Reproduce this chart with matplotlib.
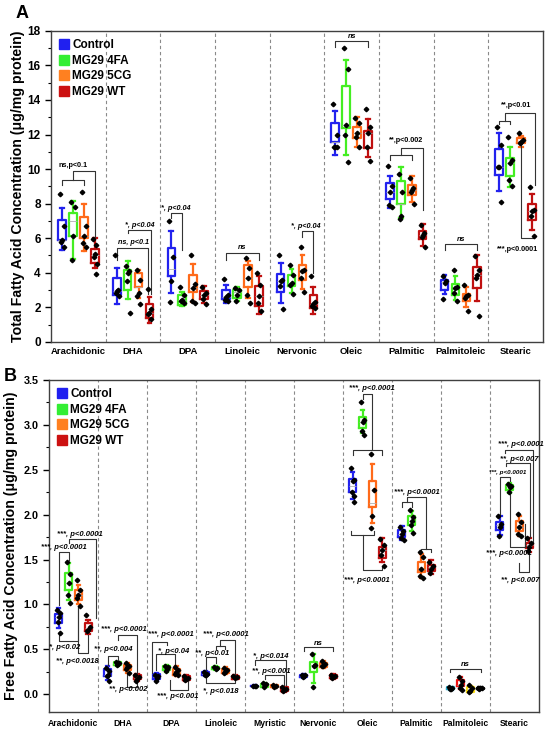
import numpy as np
import matplotlib
matplotlib.use('Agg')
import matplotlib.pyplot as plt
from matplotlib.lines import Line2D
from matplotlib.ticker import MultipleLocator

plt.rcParams['font.family'] = ['Liberation Sans', 'DejaVu Sans']
plt.rcParams['font.weight'] = 'bold'

groups = ['Control', 'MG29 4FA', 'MG29 5CG', 'MG29 WT']
colors = ['#2222ee', '#44ee22', '#ff6a1a', '#c01010']
legend_colors = ['#2020f0', '#33ee33', '#ff8020', '#cc1111']
palmitoleic_B_colors = ['#22aacc', '#ee1111', '#ffe010', '#222222']

# ---------------- Panel A: total fatty acids ----------------
A_cats = ['Arachidonic', 'DHA', 'DPA', 'Linoleic', 'Nervonic', 'Oleic',
          'Palmitic', 'Palmitoleic', 'Stearic']
# (whisker low, q1, q3, whisker high)
A_ctrl_box = [(5.3, 5.9, 7.06, 7.72), (2.16, 2.73, 3.7, 4.27), (2.83, 3.79, 5.43, 6.43),
              (2.25, 2.5, 3.02, 3.31), (2.25, 2.87, 3.95, 4.56), (10.82, 11.59, 12.69, 13.36),
              (7.74, 8.26, 9.18, 9.57), (2.79, 3.02, 3.6, 3.89), (8.74, 9.66, 11.15, 12.07)]
A_4fa_box = [(4.8, 6.1, 7.45, 8.16), (2.45, 3.02, 4.18, 4.7), (2.1, 2.15, 2.73, 2.87),
             (2.35, 2.54, 3.02, 3.18), (2.83, 3.25, 3.89, 4.22), (10.82, 12.36, 14.8, 16.3),
             (7.16, 7.99, 9.28, 10.14), (2.39, 2.73, 3.37, 3.79), (8.95, 9.57, 10.63, 11.3)]
A_5cg_box = [(5.25, 6.0, 7.25, 8.0), (2.55, 3.2, 3.98, 4.18), (2.3, 2.87, 3.89, 4.52),
             (2.54, 3.18, 4.47, 4.66), (3.06, 3.6, 4.47, 5.04), (11.3, 11.78, 12.45, 12.99),
             (8.12, 8.51, 9.09, 9.57), (2.02, 2.35, 2.79, 3.16), (11.3, 11.49, 11.78, 11.92)]
A_wt_box = [(4.27, 4.56, 5.37, 6.0), (1.1, 1.39, 2.21, 2.6), (2.25, 2.48, 2.96, 3.25),
            (1.58, 2.06, 3.25, 3.79), (1.58, 1.96, 2.73, 3.18), (10.72, 11.2, 12.22, 12.9),
            (5.56, 5.95, 6.43, 6.83), (2.35, 3.12, 4.33, 5.04), (6.49, 7.06, 7.99, 8.55)]
A_ctrl_pts = [[8.55, 6.68, 5.9, 5.8, 5.5], [5.0, 3.02, 2.93, 2.83, 2.64], [7.02, 4.89, 3.54, 2.3],
              [3.65, 2.73, 2.6, 2.44, 2.35], [5.04, 3.6, 3.5, 3.25, 1.87], [13.76, 12.0, 11.3, 11.25, 11.3],
              [10.2, 8.99, 8.7, 7.93, 7.83], [3.79, 3.5, 3.41, 2.48], [12.42, 11.4, 10.14, 10.1, 8.07]]
A_4fa_pts = [[8.07, 7.8, 6.14, 4.75], [4.37, 4.08, 4.0, 3.5, 1.67], [3.2, 2.68, 2.44, 2.35, 2.25],
             [3.12, 3.02, 2.73, 2.35], [4.47, 3.89, 3.41, 3.31, 2.77], [16.98, 15.82, 12.55, 11.97, 10.38],
             [9.72, 8.7, 7.3, 7.1], [4.14, 3.2, 3.12, 2.83, 2.35], [11.88, 10.53, 10.34, 9.37, 8.99]]
A_5cg_pts = [[8.7, 6.68, 6.1, 5.7, 5.5], [4.18, 3.6, 2.83, 2.64, 2.2], [5.0, 3.35, 3.12, 2.35, 2.25],
             [4.85, 4.27, 3.7, 2.73, 2.25], [5.49, 4.18, 4.08, 3.7, 2.87], [12.94, 12.65, 12.07, 11.88, 11.3],
             [9.47, 8.89, 8.8, 8.7, 7.97], [3.31, 2.73, 2.64, 2.54, 1.77], [12.11, 11.68, 11.59, 11.53]]
A_wt_pts = [[5.95, 5.6, 5.1, 4.9, 4.5, 3.95], [3.08, 1.87, 1.67, 1.58, 1.29], [3.2, 2.83, 2.73, 2.5, 2.21],
            [3.98, 3.31, 2.64, 2.25, 1.77], [3.79, 2.29, 2.21, 2.1, 1.96], [13.46, 12.45, 12.07, 11.3, 10.49],
            [6.78, 6.29, 6.2, 6.06, 5.49], [4.99, 4.18, 3.89, 3.7, 1.48], [8.95, 7.64, 7.55, 7.3, 6.14]]

# brackets: (category, group from, y end 1, group to, y end 2, bar height)
A_brackets = [(0, 0, 9.09, 2, 9.09, 9.37), (0, 1, 9.37, 3, 6.05, 9.86),
              (1, 0, 4.75, 2.9, 2.75, 5.43), (1, 1, 6.3, 3.1, 2.75, 6.49),
              (2, 0, 7.15, 1, 5.33, 7.45), (3, 0, 4.75, 3, 4.75, 5.14),
              (4, 2, 6.06, 3, 3.98, 6.39), (5, 0, 17.07, 3, 17.07, 17.4),
              (6, 0, 10.53, 2, 10.53, 10.82), (6, 1, 10.82, 3, 7.64, 11.2),
              (7, 0, 5.29, 3, 5.29, 5.66), (8, 0, 12.6, 1, 12.6, 12.77),
              (8, 0.5, 12.77, 3.3, 9.06, 13.23), (8, 2, 11.37, 3.2, 6.17, 5.98)]
A_labels = [(0, 1.0, 10.2, 'ns,p<0.1', False), (1, 1.5, 5.75, 'ns, p<0.1', True),
            (1, 2.1, 6.75, '*, p<0.04', True), (2, 0.4, 7.7, '*, p<0.04', True),
            (3, 1.5, 5.45, 'ns', True), (4, 2.3, 6.7, '*, p<0.04', True),
            (5, 1.5, 17.7, 'ns', True), (6, 1.5, 11.65, '**,p<0.002', False),
            (7, 1.5, 5.95, 'ns', True), (8, 1.6, 13.67, '**,p<0.01', False),
            (8, 1.7, 5.37, '***,p<0.0001', False)]

# ---------------- Panel B: free fatty acids ----------------
B_cats = ['Arachidonic', 'DHA', 'DPA', 'Linoleic', 'Myristic', 'Nervonic', 'Oleic',
          'Palmitic', 'Palmitoleic', 'Stearic']
B_ctrl_box = [(0.735, 0.79, 0.89, 0.958), (0.156, 0.20, 0.286, 0.32), (0.15, 0.175, 0.23, 0.24),
              (0.20, 0.21, 0.25, 0.26), (0.085, 0.09, 0.097, 0.10), (0.18, 0.19, 0.22, 0.23),
              (2.18, 2.255, 2.40, 2.48), (1.72, 1.755, 1.83, 1.87), (0.05, 0.055, 0.08, 0.085),
              (1.77, 1.83, 1.915, 1.98)]
B_4fa_box = [(1.05, 1.16, 1.35, 1.46), (0.32, 0.33, 0.355, 0.36), (0.25, 0.27, 0.315, 0.33),
             (0.27, 0.28, 0.30, 0.31), (0.08, 0.085, 0.115, 0.12), (0.12, 0.25, 0.36, 0.45),
             (2.91, 2.96, 3.09, 3.17), (1.82, 1.88, 1.98, 2.04), (0.06, 0.093, 0.156, 0.19),
             (2.24, 2.27, 2.33, 2.35)]
B_5cg_box = [(1.01, 1.05, 1.16, 1.22), (0.24, 0.27, 0.33, 0.35), (0.20, 0.22, 0.286, 0.31),
             (0.23, 0.24, 0.286, 0.30), (0.075, 0.078, 0.10, 0.105), (0.29, 0.30, 0.35, 0.37),
             (1.91, 2.08, 2.37, 2.56), (1.30, 1.36, 1.475, 1.56), (0.025, 0.03, 0.08, 0.09),
             (1.765, 1.82, 1.93, 1.99)]
B_wt_box = [(0.675, 0.70, 0.79, 0.83), (0.15, 0.167, 0.21, 0.23), (0.15, 0.156, 0.20, 0.21),
            (0.17, 0.175, 0.20, 0.21), (0.03, 0.033, 0.08, 0.085), (0.17, 0.18, 0.22, 0.225),
            (1.47, 1.52, 1.64, 1.735), (1.34, 1.37, 1.44, 1.49), (0.055, 0.06, 0.075, 0.08),
            (1.585, 1.63, 1.69, 1.735)]
B_ctrl_pts = [[0.94, 0.90, 0.865, 0.81, 0.687], [0.29, 0.26, 0.22, 0.20, 0.15], [0.22, 0.20, 0.18, 0.15],
              [0.25, 0.23, 0.22, 0.21], [0.095, 0.092, 0.09], [0.22, 0.21, 0.20, 0.19],
              [2.52, 2.39, 2.38, 2.25, 2.21, 2.14], [1.86, 1.82, 1.78, 1.74, 1.72], [0.08, 0.07, 0.06, 0.055],
              [1.99, 1.90, 1.86, 1.76]]
B_4fa_pts = [[1.477, 1.336, 1.236, 1.106, 1.013], [0.36, 0.345, 0.34, 0.33], [0.32, 0.30, 0.28, 0.26],
             [0.30, 0.29, 0.285], [0.12, 0.11, 0.10, 0.085], [0.45, 0.33, 0.32, 0.08],
             [3.25, 3.05, 3.03, 2.93, 2.89], [2.05, 1.97, 1.93, 1.88, 1.80], [0.19, 0.15, 0.10, 0.07, 0.05],
             [2.34, 2.32, 2.31, 2.25]]
B_5cg_pts = [[1.273, 1.16, 1.106, 1.07, 0.98], [0.35, 0.31, 0.30, 0.28, 0.24], [0.30, 0.27, 0.25, 0.23, 0.21],
             [0.29, 0.27, 0.25, 0.24], [0.10, 0.09, 0.08], [0.37, 0.34, 0.32, 0.31],
             [2.68, 2.27, 1.99, 1.85], [1.58, 1.53, 1.40, 1.32, 1.29], [0.10, 0.07, 0.04, 0.03],
             [2.01, 1.92, 1.86, 1.79, 1.76]]
B_wt_pts = [[0.883, 0.754, 0.716, 0.70], [0.22, 0.19, 0.17, 0.15], [0.2, 0.18, 0.17, 0.155],
            [0.2, 0.19, 0.18], [0.08, 0.06, 0.05, 0.035], [0.22, 0.2, 0.19, 0.18],
            [1.73, 1.66, 1.61, 1.55, 1.43], [1.47, 1.43, 1.40, 1.35], [0.075, 0.07, 0.065, 0.06],
            [1.74, 1.68, 1.64, 1.60]]

B_brackets = [(0, 0, 0.99, 1, 1.5, 1.58), (0, 1, 1.68, 3.85, 0.85, 1.73),
              (0, 0, 0.69, 2, 0.98, 0.59), (0, 2, 0.98, 3, 0.66, 0.457),
              (1, 0, 0.33, 1, 0.37, 0.43), (1, 1, 0.60, 3, 0.24, 0.66), (1, 2, 0.24, 3, 0.15, 0.08),
              (2, -0.5, 0.24, 1, 0.55, 0.58), (2, -0.1, 0.27, 1.9, 0.30, 0.45),
              (2, 1.35, 0.155, 3.2, 0.15, 0.045),
              (3, 0, 0.27, 1, 0.35, 0.41), (3, 1, 0.50, 2, 0.50, 0.535), (3, 1.5, 0.535, 3, 0.22, 0.60),
              (3, 0, 0.2, 3, 0.165, 0.12),
              (4, 0, 0.33, 3.2, 0.1, 0.38), (4, 1, 0.17, 3, 0.1, 0.21),
              (5, 0, 0.48, 3, 0.48, 0.53),
              (6, 0, 2.67, 3, 2.67, 2.72), (6, 2, 2.72, 1, 3.29, 3.34),
              (6, -0.2, 1.82, 2.2, 1.82, 1.77), (6, 1, 1.77, 3, 1.42, 1.38),
              (7, 0, 2.08, 1, 2.08, 2.14), (7, 0.5, 2.14, 2.5, 1.62, 2.2), (7, 2, 1.58, 3, 1.58, 1.62),
              (8, -0.1, 0.25, 3.1, 0.25, 0.286),
              (9, 0, 2.0, 1, 2.37, 2.415), (9, 0.6, 2.54, 3.1, 1.75, 2.57),
              (9, 0.5, 2.69, 3.4, 1.70, 2.72), (9, 1, 2.25, 2.6, 1.9, 1.64),
              (9, 2, 1.46, 3, 1.55, 1.36)]
B_labels = [(0, 0.5, 1.64, '***, p<0.0001', 5.5), (0, 2.16, 1.78, '***, p<0.0001', 5.5),
            (0, 0.63, 0.52, '*, p<0.02', 5.5), (0, 1.9, 0.37, '**, p<0.0018', 5.5),
            (1, 0.53, 0.50, '**, p<0.004', 5.5), (1, 1.67, 0.725, '***, p<0.0001', 5.5),
            (1, 2.1, 0.055, '**, p<0.002', 5.5),
            (2, 1.4, 0.66, '***, p<0.0001', 5.5), (2, 1.75, 0.48, '*, p<0.04', 5.5),
            (2, 2.16, -0.03, '***, p<0.001', 5.5),
            (3, 0.6, 0.455, '**, p<0.01', 5.5), (3, 2.1, 0.66, '***, p<0.0001', 5.5),
            (3, 1.5, 0.033, '*, p<0.018', 5.5),
            (4, 1.6, 0.42, '*, p<0.014', 5.5), (4, 1.65, 0.25, '**, p<0.001', 5.5),
            (5, 1.5, 0.57, 'ns', 5.5),
            (6, 1.95, 3.40, '***, p<0.0001', 5.5), (6, 1.4, 1.27, '***, p<0.0001', 5.5),
            (7, 1.5, 2.25, '***, p<0.0001', 5.5), (8, 1.5, 0.33, 'ns', 5.5),
            (9, 0.8, 2.47, '***, p<0.0001', 4.5), (9, 2.0, 2.62, '**, p<0.007', 5.5),
            (9, 2.2, 2.78, '***, p<0.0001', 5.5), (9, 0.9, 1.57, '***, p<0.0001', 5.5),
            (9, 2.1, 1.27, '**, p<0.007', 5.5)]

# ---------------- drawing ----------------
OFFS = -0.3
STEP = 0.2
JIT = [-0.035, 0.03, 0.0, -0.02, 0.035, 0.015]


def gpos(cat, g):
    return cat + OFFS + STEP * g


def draw_panel(ax, cats, boxes, pts, special=None):
    for g in range(4):
        stats = []
        for (lo, q1, q3, hi), p in zip(boxes[g], pts[g]):
            med = float(np.clip(np.median(p), q1, q3))
            stats.append(dict(whislo=lo, q1=q1, med=med, q3=q3, whishi=hi, fliers=[]))
        for i, st in enumerate(stats):
            col = colors[g]
            if special is not None and i == special[0]:
                col = special[1][g]
            ax.bxp([st], positions=[gpos(i, g)], widths=0.14, capwidths=0.07,
                   showfliers=False, patch_artist=False,
                   boxprops=dict(color=col, lw=1.6),
                   whiskerprops=dict(color=col, lw=1.6),
                   capprops=dict(color=col, lw=1.6),
                   medianprops=dict(color='#b0b0b0', lw=0.6))
            p = pts[g][i]
            xs = [gpos(i, g) + JIT[k % len(JIT)] for k in range(len(p))]
            ax.plot(xs, p, ls='none', marker='D', ms=2.3, color='black', zorder=5)
    for i in range(len(cats) - 1):
        ax.axvline(i + 0.5, ls=(0, (3, 2.5)), color='#8a8a8a', lw=0.8, zorder=0)
    ax.set_xlim(-0.5, len(cats) - 0.5)
    ax.set_xticks(range(len(cats)))
    ax.set_xticklabels(cats)
    ax.tick_params(axis='x', length=0)
    for s in ax.spines.values():
        s.set_color('#404040')
        s.set_linewidth(1.0)


def draw_brackets(ax, brackets):
    for cat, g1, y1, g2, y2, yb in brackets:
        x1, x2 = gpos(cat, g1), gpos(cat, g2)
        ax.plot([x1, x1, x2, x2], [y1, yb, yb, y2], color='#333333', lw=0.8, zorder=4)


fig = plt.figure(figsize=(5.5, 7.35), dpi=100)
axA = fig.add_axes([0.093, 0.535, 0.894, 0.423])
axB = fig.add_axes([0.089, 0.031, 0.891, 0.452])

# Panel A
draw_panel(axA, A_cats, [A_ctrl_box, A_4fa_box, A_5cg_box, A_wt_box],
           [A_ctrl_pts, A_4fa_pts, A_5cg_pts, A_wt_pts])
axA.set_ylim(0, 18)
axA.yaxis.set_major_locator(MultipleLocator(2))
axA.yaxis.set_minor_locator(MultipleLocator(1))
axA.tick_params(axis='y', which='major', length=4, width=1, labelsize=8.5, direction='out')
axA.tick_params(axis='y', which='minor', length=2, width=0.8)
axA.tick_params(axis='x', labelsize=6.8, pad=4)
draw_brackets(axA, A_brackets)
for cat, g, y, t, it in A_labels:
    axA.text(gpos(cat, g), y, t, ha='center', va='center', fontsize=5.2,
             fontweight='bold', fontstyle='italic' if it else 'normal', zorder=6)
axA.set_ylabel('Total Fatty Acid Concentration (\u03bcg/mg protein)', fontsize=10.2,
               fontweight='bold', labelpad=2)

# Panel B
draw_panel(axB, B_cats, [B_ctrl_box, B_4fa_box, B_5cg_box, B_wt_box],
           [B_ctrl_pts, B_4fa_pts, B_5cg_pts, B_wt_pts], special=(8, palmitoleic_B_colors))
axB.set_ylim(-0.2, 3.5)
axB.yaxis.set_major_locator(MultipleLocator(0.5))
axB.yaxis.set_minor_locator(MultipleLocator(0.25))
axB.yaxis.set_major_formatter(matplotlib.ticker.FormatStrFormatter('%.1f'))
axB.tick_params(axis='y', which='major', length=4, width=1, labelsize=7.8, direction='out')
axB.tick_params(axis='y', which='minor', length=2, width=0.8)
axB.tick_params(axis='x', labelsize=6.2, pad=5)
draw_brackets(axB, B_brackets)
for cat, g, y, t, fs in B_labels:
    axB.text(gpos(cat, g), y, t, ha='center', va='center', fontsize=fs,
             fontweight='bold', fontstyle='italic', zorder=6)
axB.set_ylabel('Free Fatty Acid Concentration (\u03bcg/mg protein)', fontsize=10.2,
               fontweight='bold', labelpad=4)

for ax in (axA, axB):
    handles = [Line2D([], [], ls='none', marker='s', ms=7, color=c) for c in legend_colors]
    ax.legend(handles, groups, loc='upper left', frameon=False,
              handlelength=0.8, handletextpad=0.3, labelspacing=0.3,
              borderaxespad=0.3, prop=dict(weight='bold', size=8.5))

fig.text(0.029, 0.982, 'A', fontsize=13, fontweight='bold', va='center')
fig.text(0.006, 0.488, 'B', fontsize=13, fontweight='bold', va='center')

fig.savefig('out.png', dpi=100)
